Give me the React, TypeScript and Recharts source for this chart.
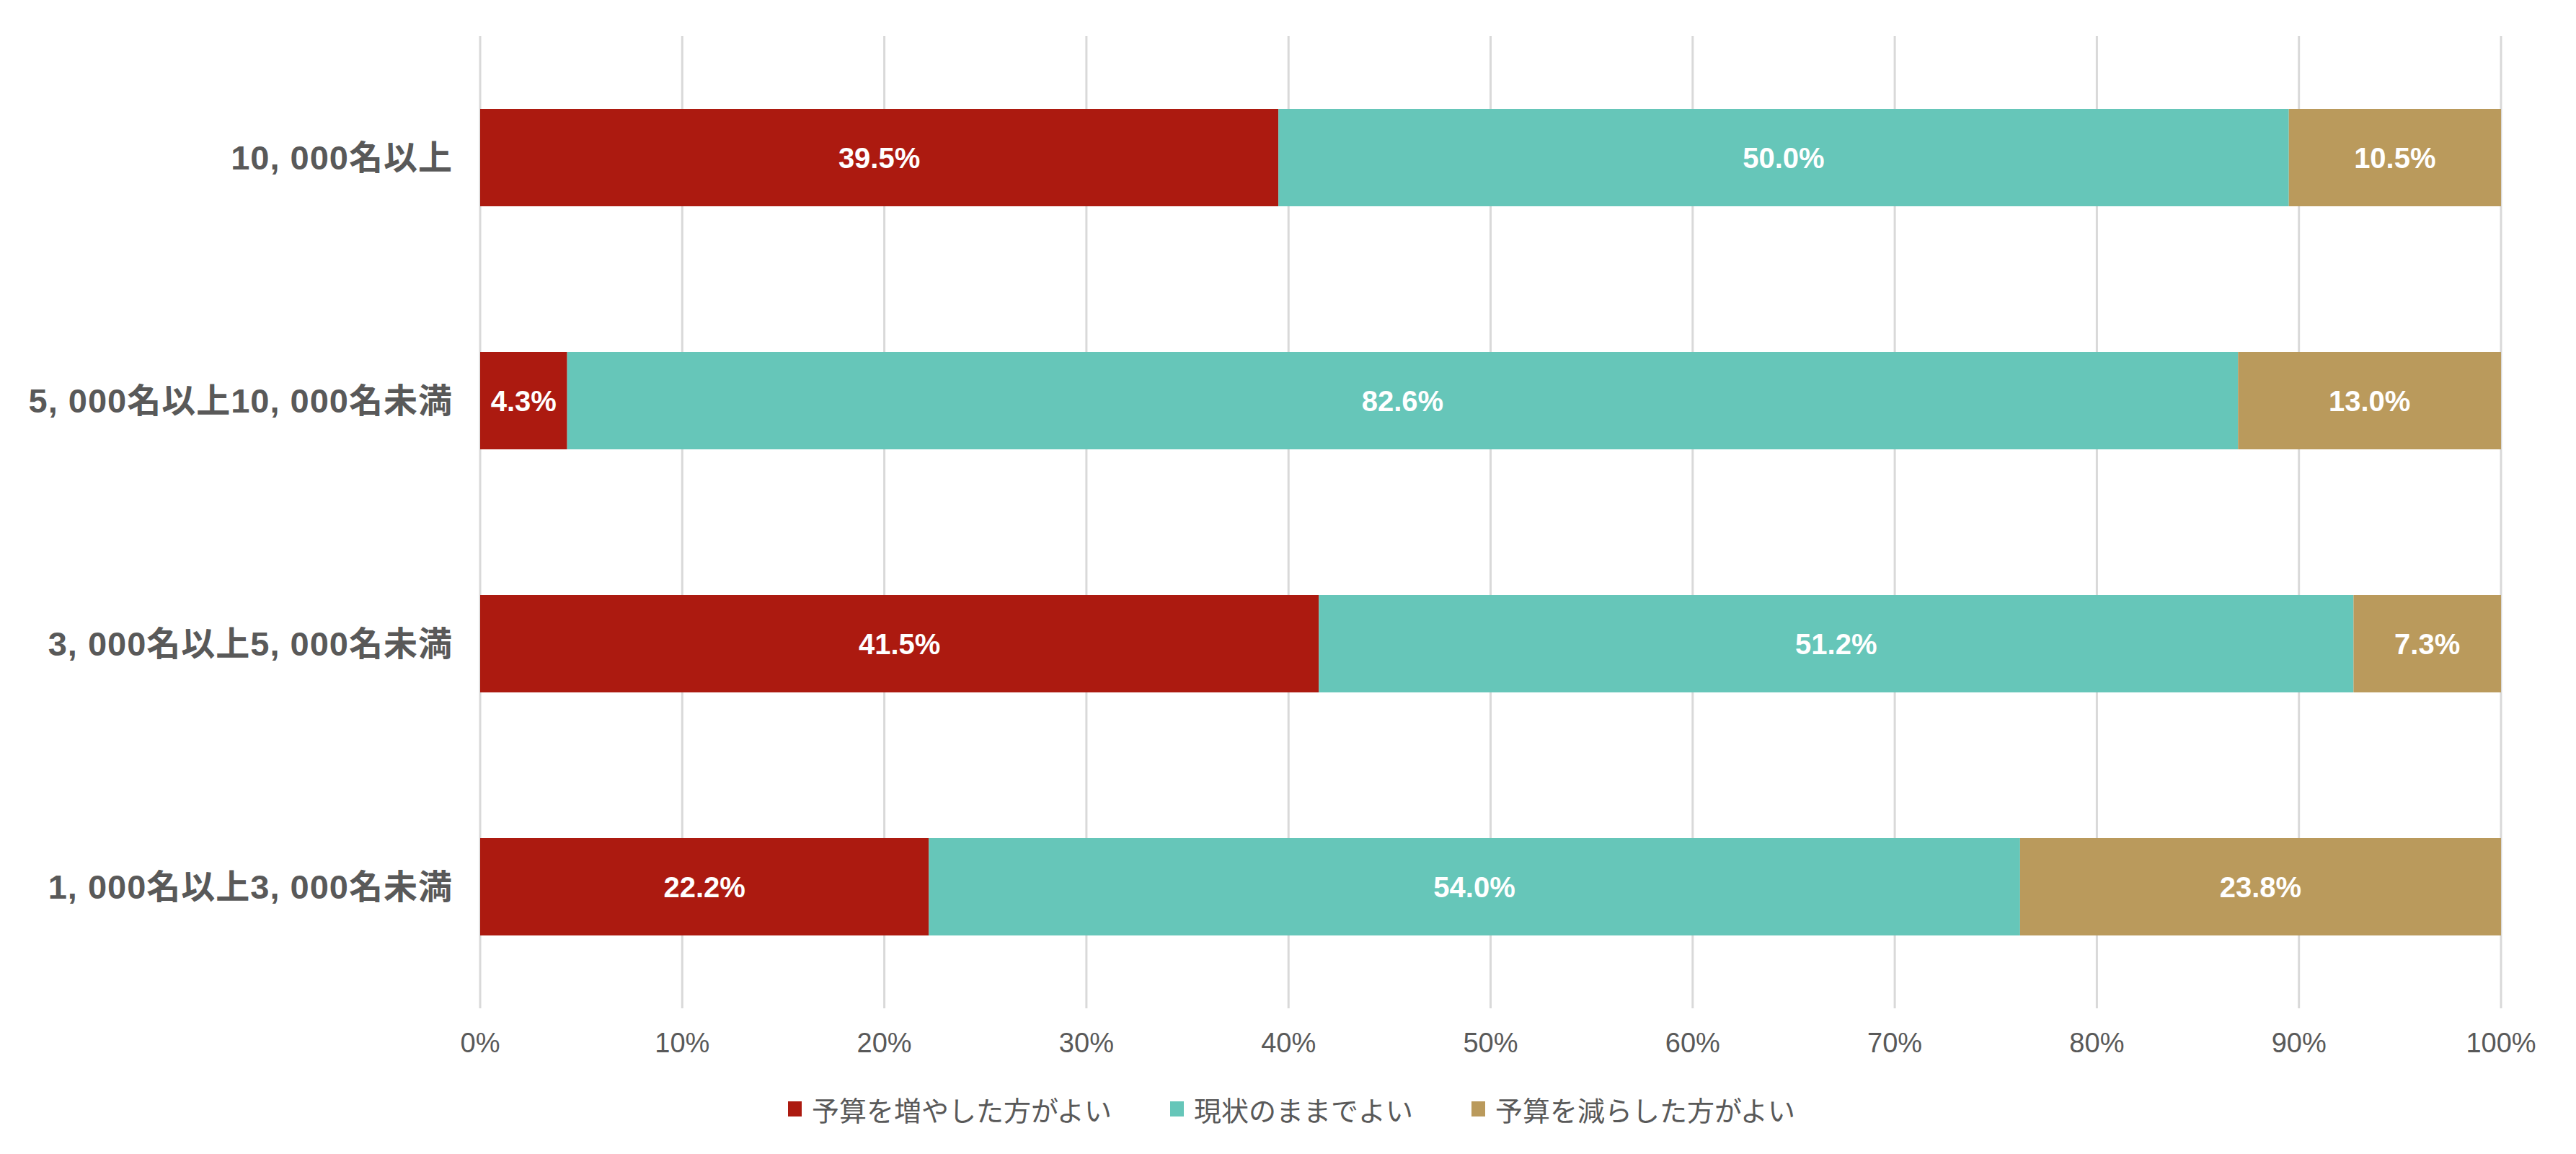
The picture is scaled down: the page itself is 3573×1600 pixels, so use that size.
import { BarChart, Bar, XAxis, YAxis, CartesianGrid, LabelList, Legend } from "recharts";

const categories = [
  "10, 000名以上",
  "5, 000名以上10, 000名未満",
  "3, 000名以上5, 000名未満",
  "1, 000名以上3, 000名未満",
];
const increase = [39.5, 4.3, 41.5, 22.2];
const keep = [50.0, 82.6, 51.2, 54.0];
const decrease = [10.5, 13.0, 7.3, 23.8];
const xTicks = [0, 0.1, 0.2, 0.3, 0.4, 0.5, 0.6, 0.7, 0.8, 0.9, 1];

const seriesInfo = [
  { key: "increase", name: "予算を増やした方がよい", color: "#AC1A10" },
  { key: "keep", name: "現状のままでよい", color: "#66C6B9" },
  { key: "decrease", name: "予算を減らした方がよい", color: "#BA9A5C" },
];

const data = categories.map((c, i) => ({
  name: c,
  increase: increase[i],
  keep: keep[i],
  decrease: decrease[i],
}));

const FONT = '"Liberation Sans", Arial, "Noto Sans CJK JP", sans-serif';

function CategoryTick(props: any) {
  const { x, y, payload } = props;
  return (
    <text
      x={x}
      y={y}
      dy="0.35em"
      textAnchor="end"
      fill="#595959"
      fontSize={47}
      fontWeight="bold"
      letterSpacing={1}
      fontFamily={FONT}
    >
      {payload.value}
    </text>
  );
}

function LegendBox() {
  return (
    <div
      style={{
        display: "flex",
        justifyContent: "center",
        alignItems: "center",
        height: 50,
        paddingLeft: 114,
        fontFamily: FONT,
        fontSize: 38,
        color: "#595959",
      }}
    >
      {seriesInfo.map((s, i) => (
        <div
          key={s.key}
          style={{ display: "flex", alignItems: "center", marginLeft: i === 0 ? 0 : 81 }}
        >
          <span style={{ width: 19, height: 21, background: s.color, marginRight: 14, display: "inline-block" }} />
          <span>{s.name}</span>
        </div>
      ))}
    </div>
  );
}

const pct = (v: any) => `${Number(v).toFixed(1)}%`;

export default function App() {
  return (
    <div style={{ position: "absolute", left: 0, top: 0, background: "#fff" }}>
      <BarChart
        width={3573}
        height={1600}
        data={data}
        layout="vertical"
        stackOffset="expand"
        barCategoryGap="30%"
        margin={{ top: 50, right: 104, bottom: 38, left: 0 }}
      >
        <CartesianGrid horizontal={false} stroke="#D9D9D9" strokeWidth={3} />
        <XAxis
          type="number"
          domain={[0, 1]}
          ticks={xTicks}
          tickFormatter={(v: number) => `${Math.round(v * 100)}%`}
          axisLine={false}
          tickLine={false}
          height={114}
          tickMargin={28}
          tick={{ fill: "#595959", fontSize: 38, fontFamily: FONT }}
        />
        <YAxis
          type="category"
          dataKey="name"
          width={666}
          axisLine={false}
          tickLine={false}
          tickMargin={32}
          tick={<CategoryTick />}
        />
        <Legend verticalAlign="bottom" content={() => <LegendBox />} />
        {seriesInfo.map((s) => (
          <Bar key={s.key} dataKey={s.key} name={s.name} stackId="a" fill={s.color} isAnimationActive={false}>
            <LabelList
              dataKey={s.key}
              position="center"
              formatter={pct}
              fill="#FFFFFF"
              fontSize={40}
              fontWeight="bold"
              fontFamily={FONT}
            />
          </Bar>
        ))}
      </BarChart>
    </div>
  );
}
